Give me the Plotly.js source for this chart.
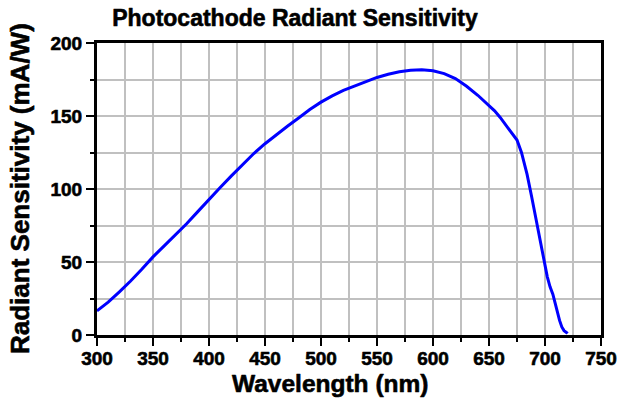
<!DOCTYPE html>
<html>
<head>
<meta charset="utf-8">
<script src="https://cdn.plot.ly/plotly-3.0.1.min.js"></script>
<style>
html,body{margin:0;padding:0;background:#fff;}
#chart{width:621px;height:398px;}
#chart svg text{stroke:#000;stroke-width:0.6px;stroke-linejoin:round;}
</style>
</head>
<body>
<div id="chart"></div>
<script>
const wavelength = [300,310,320,325,330,340,350,360,370,375,380,390,400,410,420,425,430,440,450,460,470,480,490,500,510,520,530,540,550,560,570,580,590,600,610,620,625,630,640,650,655,660,665,670,675,679,684,688,691,693,697,700,702,704.5,707,709,711,713,715,717,719.5,720];
const sensitivity = [16.5,22.5,29.5,33,37,45,53.5,61,68.5,72.3,76.2,84.5,93,101,109,113,117,124.3,131,137.2,143,148.6,154.4,159.5,163.8,167.5,170.6,173.6,176.4,178.6,180.3,181.3,181.6,181,179,175.6,173.2,170.4,164.2,157.5,153.5,149,144,139,133.5,125,110,95,83,74,58,47,40,33,28,22,15,10,5.5,3,1.5,1];
const xTicks = [300,350,400,450,500,550,600,650,700,750];
const yTicks = [0,50,100,150,200];

const font = 'Liberation Sans, Arial, sans-serif';
const trace = {
  x: wavelength, y: sensitivity, type: 'scatter', mode: 'lines',
  line: {color: '#0000ff', width: 3}, hoverinfo: 'skip'
};
const layout = {
  width: 621, height: 398,
  margin: {l: 97, r: 20, t: 43, b: 63},
  paper_bgcolor: '#fff', plot_bgcolor: '#fff',
  showlegend: false,
  title: {text: 'Photocathode Radiant Sensitivity', font: {family: font, size: 23, weight: 'bold', color: '#000'},
          x: 0.475, xanchor: 'center', xref: 'container', y: 0.955, yanchor: 'middle', yref: 'container'},
  xaxis: {
    range: [300, 750], tickvals: xTicks, ticktext: xTicks.map(String),
    ticks: 'outside', ticklen: 8, tickwidth: 2, tickcolor: '#000', ticklabelstandoff: -4,
    showline: true, linewidth: 3, linecolor: '#000', mirror: true,
    showgrid: true, gridcolor: '#c0c0c0', gridwidth: 2, zeroline: false,
    minor: {dtick: 25, tick0: 300, ticks: 'outside', ticklen: 4, tickwidth: 2, tickcolor: '#000', showgrid: true, gridcolor: '#c0c0c0', gridwidth: 2},
    tickfont: {family: font, size: 19, weight: 'bold', color: '#000'}
  },
  yaxis: {
    range: [0, 200], tickvals: yTicks, ticktext: yTicks.map(String),
    ticks: 'outside', ticklen: 8, tickwidth: 2, tickcolor: '#000',
    showline: true, linewidth: 3, linecolor: '#000', mirror: true,
    showgrid: true, gridcolor: '#c0c0c0', gridwidth: 2, zeroline: false,
    minor: {dtick: 25, tick0: 0, ticks: 'outside', ticklen: 4, tickwidth: 2, tickcolor: '#000', showgrid: true, gridcolor: '#c0c0c0', gridwidth: 2},
    tickfont: {family: font, size: 19, weight: 'bold', color: '#000'}
  },
  annotations: [{
    text: 'Wavelength (nm)', xref: 'paper', yref: 'paper',
    x: (330 - 97) / 504, y: -(383 - 335) / 292, xanchor: 'center', yanchor: 'middle', showarrow: false,
    font: {family: font, size: 24.5, weight: 'bold', color: '#000'}
  }, {
    text: 'Radiant Sensitivity (mA/W)', xref: 'paper', yref: 'paper', textangle: -90,
    x: (20 - 97) / 504, y: 0.5, xanchor: 'center', yanchor: 'middle', showarrow: false,
    font: {family: font, size: 26, weight: 'bold', color: '#000'}
  }]
};
Plotly.newPlot('chart', [trace], layout, {staticPlot: true, displayModeBar: false});
</script>
</body>
</html>
